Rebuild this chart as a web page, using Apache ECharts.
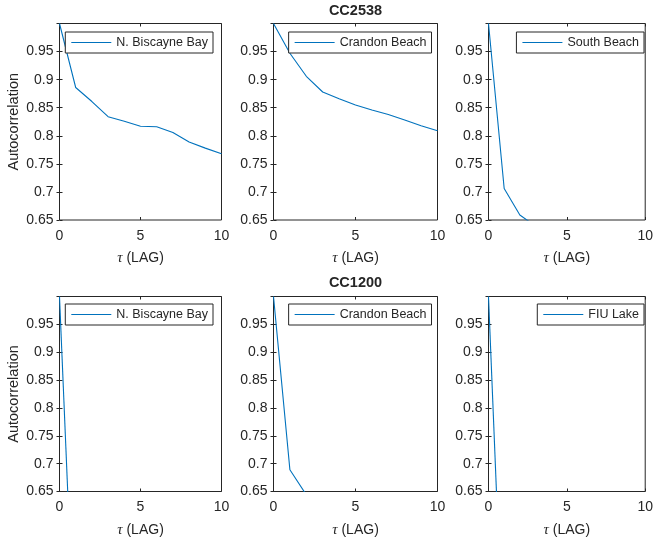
<!DOCTYPE html>
<html>
<head>
<meta charset="utf-8">
<script src="https://cdn.jsdelivr.net/npm/echarts@6/dist/echarts.min.js"></script>
<style>
html, body { margin: 0; padding: 0; background: #fff; }
#chart { width: 656px; height: 540px; }
</style>
</head>
<body>
<div id="chart"></div>
<script>
// lag values (x axis)
var lags = [0, 1, 2, 3, 4, 5, 6, 7, 8, 9, 10];
var xTicks = [0, 5, 10];
var yTicks = [0.65, 0.7, 0.75, 0.8, 0.85, 0.9, 0.95];

// CC2538 autocorrelation
var cc2538Biscayne = [1, 0.886, 0.861, 0.834, 0.826, 0.817, 0.816, 0.806, 0.789, 0.778, 0.768];
var cc2538Crandon = [1, 0.947, 0.906, 0.878, 0.866, 0.855, 0.846, 0.838, 0.828, 0.818, 0.809];
var cc2538South = [1, 0.706, 0.659, 0.639];

// CC1200 autocorrelation
var cc1200Biscayne = [1, 0.31];
var cc1200Crandon = [1, 0.689, 0.644];
var cc1200Fiu = [1, 0.31];

var seriesNames = ['N. Biscayne Bay', 'Crandon Beach', 'South Beach', 'N. Biscayne Bay', 'Crandon Beach', 'FIU Lake'];
var seriesValues = [cc2538Biscayne, cc2538Crandon, cc2538South, cc1200Biscayne, cc1200Crandon, cc1200Fiu];
var rowTitles = ['CC2538', 'CC1200'];

var textColor = '#262626';
var lineColor = '#0072BD';
var font = 'Liberation Sans';

// layout of the 2x3 panels
var colLeft = [59.5, 273.5, 488.5];
var colWidth = [162, 164, 163];
var rowTop = [23.5, 296.5];
var rowHeight = [196.5, 195];
var legendRight = [443, 224.5, 12];
var legendTop = [32, 304];

function zip(xs, ys) {
    var out = [];
    for (var i = 0; i < ys.length; i++) {
        out.push([xs[i], ys[i]]);
    }
    return out;
}

function buildOption() {
    var grid = [], xAxis = [], yAxis = [], series = [], legend = [], title = [];
    for (var i = 0; i < 6; i++) {
        var row = Math.floor(i / 3);
        var col = i % 3;
        grid.push({
            left: colLeft[col], top: rowTop[row],
            width: colWidth[col], height: rowHeight[row],
            show: true, borderColor: textColor, borderWidth: 1,
            backgroundColor: 'transparent'
        });
        var tick = {show: true, inside: true, length: 3, lineStyle: {color: textColor, width: 1}};
        // bottom axis with labels
        xAxis.push({
            type: 'value', gridIndex: i, position: 'bottom',
            min: xTicks[0], max: xTicks[xTicks.length - 1], interval: xTicks[1] - xTicks[0],
            axisLine: {show: false}, axisTick: tick, splitLine: {show: false},
            axisLabel: {color: textColor, fontSize: 14, fontFamily: font, margin: 9},
            name: '{i|τ} (LAG)', nameLocation: 'middle', nameGap: 31,
            nameTextStyle: {
                color: textColor, fontSize: 14, fontFamily: font,
                rich: {i: {fontStyle: 'italic', fontSize: 15, fontFamily: 'Liberation Serif', color: textColor}}
            }
        });
        // top axis, ticks only
        xAxis.push({
            type: 'value', gridIndex: i, position: 'top',
            min: xTicks[0], max: xTicks[xTicks.length - 1], interval: xTicks[1] - xTicks[0],
            axisLine: {show: false}, axisTick: tick, splitLine: {show: false},
            axisLabel: {show: false}
        });
        yAxis.push({
            type: 'value', gridIndex: i, position: 'left',
            min: yTicks[0], max: 1, interval: 0.05,
            axisLine: {show: false}, axisTick: tick, splitLine: {show: false},
            axisLabel: {
                color: textColor, fontSize: 14, fontFamily: font, margin: 6,
                formatter: function (v) {
                    return v > 0.99 ? '' : String(parseFloat(v.toFixed(2)));
                }
            },
            name: col === 0 ? 'Autocorrelation' : '',
            nameLocation: 'middle', nameGap: 38,
            nameTextStyle: {color: textColor, fontSize: 14.5, fontFamily: font}
        });
        yAxis.push({
            type: 'value', gridIndex: i, position: 'right',
            min: yTicks[0], max: 1, interval: 0.05,
            axisLine: {show: false}, axisTick: tick, splitLine: {show: false},
            axisLabel: {show: false}
        });
        series.push({
            type: 'line', name: seriesNames[i],
            xAxisIndex: 2 * i, yAxisIndex: 2 * i,
            data: zip(lags, seriesValues[i]),
            symbol: 'none', clip: true,
            color: lineColor,
            lineStyle: {color: lineColor, width: 1.1}
        });
        legend.push({
            data: [seriesNames[i]],
            right: legendRight[col], top: legendTop[row],
            borderColor: textColor, borderWidth: 1, borderRadius: 0,
            backgroundColor: '#fff',
            padding: [4, 5, 4, 6],
            icon: 'rect', itemWidth: 40, itemHeight: 1.2,
            itemStyle: {color: lineColor},
            selectedMode: false,
            textStyle: {color: textColor, fontSize: 12.5, fontFamily: font, lineHeight: 12}
        });
    }
    for (var r = 0; r < rowTitles.length; r++) {
        title.push({
            text: rowTitles[r],
            left: colLeft[1] + colWidth[1] / 2, textAlign: 'center',
            top: r === 0 ? 3 : 275, padding: 0,
            textStyle: {color: textColor, fontSize: 14.5, fontWeight: 'bold', fontFamily: font}
        });
    }
    return {
        animation: false,
        backgroundColor: '#fff',
        title: title, grid: grid, xAxis: xAxis, yAxis: yAxis,
        legend: legend, series: series
    };
}

var chart = echarts.init(document.getElementById('chart'));
chart.setOption(buildOption());
</script>
</body>
</html>
